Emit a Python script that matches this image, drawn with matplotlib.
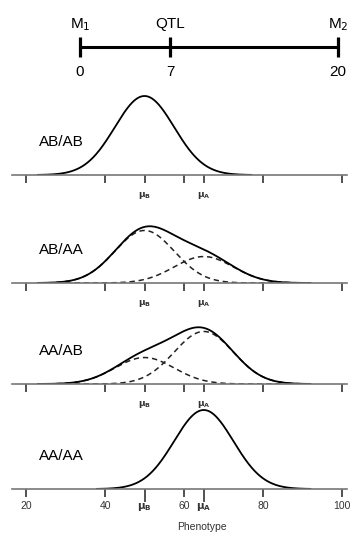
import numpy as np
import matplotlib
matplotlib.use('Agg')
import matplotlib.pyplot as plt

plt.rcParams['font.family'] = ['Liberation Sans', 'DejaVu Sans']

# marker map (cM)
map_names = ['M$_1$', 'QTL', 'M$_2$']
map_pos = [0, 7, 20]

# phenotype model
mu_B = 50.0
mu_A = 65.0
sd = 7.5
genotypes = ['AB/AB', 'AB/AA', 'AA/AB', 'AA/AA']
w_B = [1.0, 0.665, 0.335, 0.0]   # share of the QTL-B component in each class

tick_vals = [20, 40, mu_B, 60, mu_A, 80, 100]
tick_text = ['20', '40', r'$\mathbf{\mu_B}$', '60', r'$\mathbf{\mu_A}$', '80', '100']

W, H = 350, 535
fig = plt.figure(figsize=(W / 100, H / 100), dpi=100)


def px_box(x0, y0, x1, y1):
    # pixel box (top-left origin) -> figure fraction rect
    return [x0 / W, 1 - y1 / H, (x1 - x0) / W, (y1 - y0) / H]


# ---- linkage map on top
mx = fig.add_axes(px_box(80, 37, 338, 57))
mx.set_xlim(0, 20)
mx.set_ylim(-1, 1)
mx.axis('off')
mx.plot([map_pos[0], map_pos[-1]], [0, 0], color='black', lw=2.2,
        solid_capstyle='butt', clip_on=False)
mx.vlines(map_pos, -1, 1, color='black', lw=2.3, clip_on=False)
for p, name in zip(map_pos, map_names):
    mx.text(p, 1.9, name, ha='center', va='baseline', fontsize=11)
    mx.text(p, -2.9, str(p), ha='center', va='baseline', fontsize=11)

# ---- phenotype distributions
axis_y = [175, 283, 384, 489]
peak_px = 79
panel_h = 95
px_per_unit = 316 / 80.0
xlo = 20 - 26 / px_per_unit
xhi = 100 + 8 / px_per_unit


def bell(x, m):
    return np.exp(-0.5 * ((x - m) / sd) ** 2)


for i, (g, wb) in enumerate(zip(genotypes, w_B)):
    ay = axis_y[i]
    ax = fig.add_axes(px_box(0, ay - panel_h, W, ay))
    ax.set_xlim(xlo, xhi)
    ax.set_ylim(0, panel_h / peak_px)
    ax.patch.set_alpha(0)
    for s in ['top', 'right', 'left']:
        ax.spines[s].set_visible(False)
    ax.spines['bottom'].set_color('#777777')
    ax.spines['bottom'].set_linewidth(1.2)
    ax.spines['bottom'].set_bounds(16.5, 101.2)
    ax.set_yticks([])

    means = [m for m, w in zip([mu_B, mu_A], [wb, 1 - wb]) if w > 0]
    x = np.linspace(min(means) - 27, max(means) + 27, 400)
    comp_B = wb * bell(x, mu_B)
    comp_A = (1 - wb) * bell(x, mu_A)
    if 0 < wb < 1:
        ax.plot(x, comp_B, color='#222222', lw=1.1, ls=(0, (3.5, 2.5)))
        ax.plot(x, comp_A, color='#222222', lw=1.1, ls=(0, (3.5, 2.5)))
    ax.plot(x, comp_B + comp_A, color='black', lw=1.3)

    ax.text(0.11, 33 / panel_h, g, transform=ax.transAxes, fontsize=11,
            ha='left', va='center')

    ax.set_xticks(tick_vals)
    if i == len(genotypes) - 1:
        ax.set_xticklabels(tick_text, fontsize=7.5, color='#333333')
        ax.text(64.5, -0.4, 'Phenotype', transform=ax.get_xaxis_transform(),
                ha='center', va='center', fontsize=7.5, color='#333333')
    else:
        lab = [t if v in (mu_B, mu_A) else '' for v, t in zip(tick_vals, tick_text)]
        ax.set_xticklabels(lab, fontsize=6.5, color='#333333')
    ax.tick_params(axis='x', direction='out', length=5.5, width=1.1, color='#222222', pad=3)
    for t, v in zip(ax.xaxis.get_major_ticks(), tick_vals):
        if v in (mu_B, mu_A):
            t.tick1line.set_markersize(9)
            if i < len(genotypes) - 1:
                t.set_pad(5)

fig.savefig('out.png', dpi=100)
